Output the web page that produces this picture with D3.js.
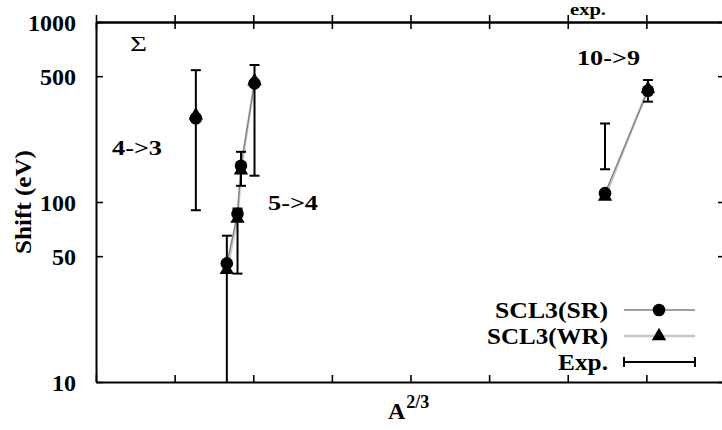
<!DOCTYPE html>
<html>
<head>
<meta charset="utf-8">
<script src="https://cdn.jsdelivr.net/npm/d3@7"></script>
<style>
  html, body { margin: 0; padding: 0; background: #fff; }
  svg { display: block; }
  text { font-family: "Liberation Serif", "DejaVu Serif", serif; fill: #000; }
</style>
</head>
<body>
<svg id="chart" width="722" height="430"></svg>
<script>
// ---- data (x = A^(2/3), y = shift in eV) ----
const nuclei   = ["O", "Mg", "Al", "Si", "S", "W", "Pb"];
const groups   = ["4->3", "5->4", "5->4", "5->4", "5->4", "10->9", "10->9"];
const xA23     = [6.35, 8.32, 9.00, 9.22, 10.08, 32.37, 35.10];
const srShift  = [292, 45.6, 86, 159, 456, 112, 415];
const wrShift  = [303, 42, 81, 150, 470, 107, 425];
const expLow   = [90, 5, 40, 123, 140, 152, 361];
const expHigh  = [540, 65, 92, 190, 577, 273, 476];
const yTicks   = [10, 50, 100, 500, 1000];
const xTicks   = [0, 5, 10, 15, 20, 25, 30, 35, 40];
const transitionLabels = ["4->3", "5->4", "10->9"];
const legendLabels = ["SCL3(SR)", "SCL3(WR)", "Exp."];

// ---- layout ----
const svg = d3.select("#chart");
const L = 96, T = 22, R = 725, B = 382;
const x = d3.scaleLinear().domain([0, 40]).range([L, R]);
const y = d3.scaleLog().domain([10, 1000]).range([B, T]);

svg.append("defs").append("clipPath").attr("id", "plotclip")
  .append("rect").attr("x", L).attr("y", T).attr("width", R - L).attr("height", B - T);

const axisStyle = g => {
  g.selectAll(".domain").attr("stroke", "#000").attr("stroke-width", 2);
  g.selectAll(".tick line").attr("stroke", "#000").attr("stroke-width", 1.6);
};
const bold = sel => sel.style("font-weight", "bold").style("font-family", "'Liberation Serif', serif");

// left axis
svg.append("g").attr("transform", `translate(${L},0)`)
  .call(d3.axisLeft(y).tickValues(yTicks).tickFormat(d3.format("d")).tickSizeInner(-7).tickSizeOuter(0).tickPadding(20))
  .call(axisStyle)
  .call(g => g.selectAll("text").attr("font-size", 24).attr("dy", "0.36em").call(bold)
    .attr("textLength", d => String(d).length * 12).attr("lengthAdjust", "spacingAndGlyphs"));
// right axis
svg.append("g").attr("transform", `translate(${R},0)`)
  .call(d3.axisRight(y).tickValues(yTicks).tickFormat("").tickSizeInner(-7).tickSizeOuter(0))
  .call(axisStyle);
// bottom axis
svg.append("g").attr("transform", `translate(0,${B})`)
  .call(d3.axisBottom(x).tickValues(xTicks).tickFormat("").tickSizeInner(-7).tickSizeOuter(0))
  .call(axisStyle);
// top axis (ticks both sides)
svg.append("g").attr("transform", `translate(0,${T})`)
  .call(d3.axisTop(x).tickValues(xTicks).tickFormat("").tickSizeInner(-7).tickSizeOuter(0))
  .call(axisStyle);
svg.append("g").attr("transform", `translate(0,${T})`)
  .call(d3.axisTop(x).tickValues(xTicks).tickFormat("").tickSizeInner(7).tickSizeOuter(0))
  .call(axisStyle);

// axis titles
svg.append("text").attr("transform", "translate(31,202) rotate(-90)")
  .attr("text-anchor", "middle").attr("font-size", 24).call(bold)
  .attr("textLength", 104).attr("lengthAdjust", "spacingAndGlyphs").text("Shift (eV)");
const xt = svg.append("text").attr("x", 388).attr("y", 419).attr("font-size", 24).call(bold);
xt.append("tspan").text("A");
xt.append("tspan").attr("dx", 1).attr("dy", -11).attr("font-size", 18).text("2/3");

// label from the panel above (reference shows it at the very top edge)
svg.append("text").attr("x", 570).attr("y", 15).attr("font-size", 16).call(bold)
  .attr("textLength", 36).attr("lengthAdjust", "spacingAndGlyphs").text("exp.");

// panel and transition labels
svg.append("text").attr("x", 130).attr("y", 51).attr("font-size", 22)
  .style("font-family", "'Liberation Serif', serif").style("font-weight", "normal")
  .attr("textLength", 17).attr("lengthAdjust", "spacingAndGlyphs").text("Σ");
const labelPos = [[112, 155, 50], [268, 210, 50], [577, 65, 63]];
transitionLabels.forEach((t, i) => {
  svg.append("text").attr("x", labelPos[i][0]).attr("y", labelPos[i][1]).attr("font-size", 22).call(bold)
    .attr("textLength", labelPos[i][2]).attr("lengthAdjust", "spacingAndGlyphs").text(t);
});

const plot = svg.append("g").attr("clip-path", "url(#plotclip)");
const idx = d3.range(xA23.length);

// lines connecting computed values within each transition
const line = (vals) => d3.line().x(i => x(xA23[i])).y(i => y(vals[i]));
const grpNames = Array.from(new Set(groups));
grpNames.forEach(gname => {
  const ids = idx.filter(i => groups[i] === gname);
  if (ids.length < 2) return;
  plot.append("path").attr("d", line(wrShift)(ids)).attr("fill", "none")
    .attr("stroke", "#c8c8c8").attr("stroke-width", 2.5);
  plot.append("path").attr("d", line(srShift)(ids)).attr("fill", "none")
    .attr("stroke", "#808080").attr("stroke-width", 1.3);
});

// experimental error bars
const cap = 5;
idx.forEach(i => {
  const cx = x(xA23[i]);
  plot.append("line").attr("x1", cx).attr("x2", cx)
    .attr("y1", y(Math.max(expLow[i], 1))).attr("y2", y(expHigh[i]))
    .attr("stroke", "#000").attr("stroke-width", 2);
  [expLow[i], expHigh[i]].forEach(v => {
    if (v >= 10) plot.append("line").attr("x1", cx - cap).attr("x2", cx + cap)
      .attr("y1", y(v)).attr("y2", y(v)).attr("stroke", "#000").attr("stroke-width", 2);
  });
});

// markers: triangles (WR) and circles (SR)
const tri = d3.symbol().type(d3.symbolTriangle).size(90);
idx.forEach(i => {
  plot.append("path").attr("d", tri()).attr("transform", `translate(${x(xA23[i])},${y(wrShift[i])})`).attr("fill", "#000");
});
idx.forEach(i => {
  plot.append("circle").attr("cx", x(xA23[i])).attr("cy", y(srShift[i])).attr("r", 6.3).attr("fill", "#000");
});

// legend
const legY = [310, 336, 362];
const lx1 = 624, lx2 = 695, lxm = 659;
const legW = [113, 121, 50];
legendLabels.forEach((t, i) => {
  svg.append("text").attr("x", 608).attr("y", legY[i]).attr("dy", "0.35em")
    .attr("text-anchor", "end").attr("font-size", 23).call(bold)
    .attr("textLength", legW[i]).attr("lengthAdjust", "spacingAndGlyphs").text(t);
});
svg.append("line").attr("x1", lx1).attr("x2", lx2).attr("y1", legY[0]).attr("y2", legY[0]).attr("stroke", "#808080").attr("stroke-width", 1.3);
svg.append("circle").attr("cx", lxm).attr("cy", legY[0]).attr("r", 6.3).attr("fill", "#000");
svg.append("line").attr("x1", lx1).attr("x2", lx2).attr("y1", legY[1]).attr("y2", legY[1]).attr("stroke", "#c8c8c8").attr("stroke-width", 2.5);
svg.append("path").attr("d", tri()).attr("transform", `translate(${lxm},${legY[1]})`).attr("fill", "#000");
svg.append("line").attr("x1", lx1).attr("x2", lx2).attr("y1", legY[2]).attr("y2", legY[2]).attr("stroke", "#000").attr("stroke-width", 2);
[lx1, lx2].forEach(px => svg.append("line").attr("x1", px).attr("x2", px).attr("y1", legY[2] - 5).attr("y2", legY[2] + 5).attr("stroke", "#000").attr("stroke-width", 2));
</script>
</body>
</html>
